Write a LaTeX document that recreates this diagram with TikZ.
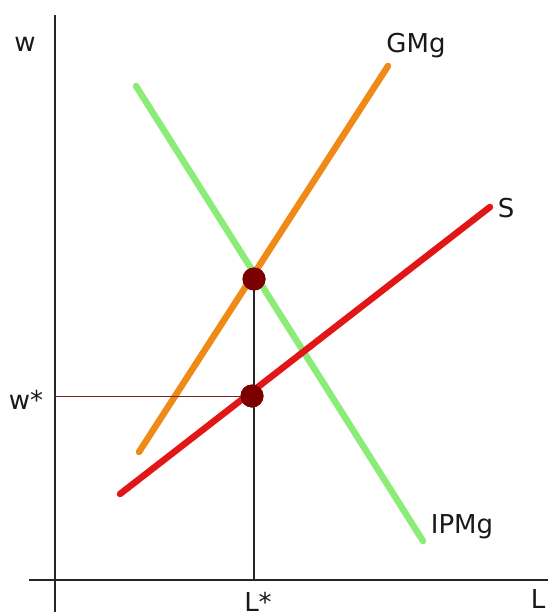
\documentclass[tikz,border=0pt]{standalone}
\usepackage{fontspec}
\setmainfont{DejaVu Sans}
\definecolor{gmgc}{RGB}{240,138,22}
\definecolor{ipmgc}{RGB}{140,236,120}
\definecolor{sc}{RGB}{226,22,22}
\definecolor{dotc}{RGB}{125,0,0}
\definecolor{wline}{RGB}{120,40,40}
\begin{document}
\begin{tikzpicture}[x=1pt,y=-1pt,
  axis/.style={line width=1.4pt,black!85},
  curve/.style={line width=6.5pt,line cap=round},
  eqdot/.style={circle,fill=dotc,inner sep=0pt,minimum size=23pt},
  lbl/.style={font=\fontsize{26}{29}\selectfont,text=black!90,inner sep=0pt}]
\useasboundingbox (0,0) rectangle (548,612);
% axes
\coordinate (yt) at (55,15);
\coordinate (yb) at (55,612);
\coordinate (xl) at (29,580);
\coordinate (xr) at (548,580);
\draw[axis] (yt) -- (yb);
\draw[axis] (xl) -- (xr);
% curves
\coordinate (g1) at (139,452);
\coordinate (g2) at (388,66);
\coordinate (i1) at (136,86);
\coordinate (i2) at (423,541);
\coordinate (s1) at (120,494);
\coordinate (s2) at (490,207);
\draw[curve,gmgc] (g1) -- (g2);
\draw[curve,ipmgc] (i1) -- (i2);
\draw[curve,sc] (s1) -- (s2);
% equilibrium
\node[eqdot] (e1) at (254,279) {};
\node[eqdot] (e2) at (252,396) {};
\coordinate (lx) at (254,580);
\coordinate (wy) at (55,396);
\draw[line width=1.2pt,black!85] (e1.center) -- (lx);
\draw[line width=1pt,wline] (wy) -- (e2.center);
\node[eqdot] at (e1) {};
\node[eqdot] at (e2) {};
% labels
\node[lbl] (lw) at (25,44) {w};
\node[lbl] (lg) at (416,46) {GMg};
\node[lbl] (ls) at (506,208) {S};
\node[lbl] (lws) at (26,400) {w*};
\node[lbl] (li) at (462,527) {IPMg};
\node[lbl] (lls) at (258,602) {L*};
\node[lbl] (ll) at (538,599) {L};
\end{tikzpicture}
\end{document}
